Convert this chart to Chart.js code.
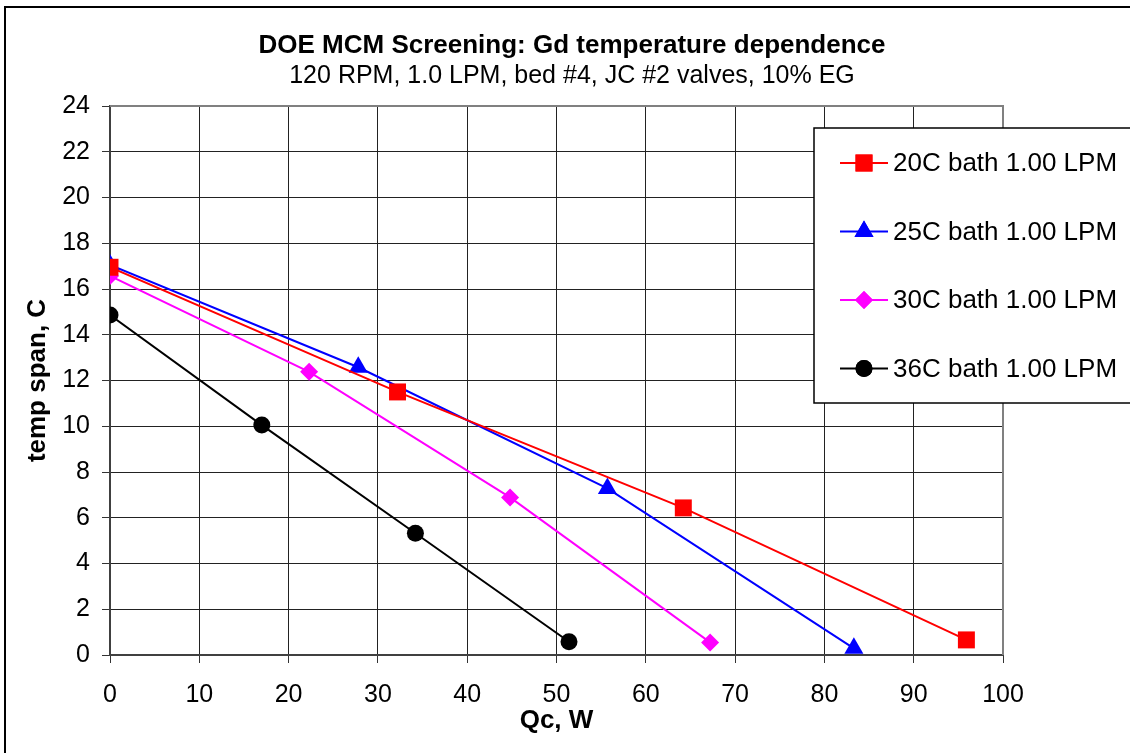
<!DOCTYPE html>
<html><head><meta charset="utf-8">
<script src="https://cdn.jsdelivr.net/npm/chart.js@4.4.1/dist/chart.umd.min.js"></script>
<style>html,body{margin:0;padding:0;background:#fff;overflow:hidden}canvas{display:block}</style>
</head><body>
<canvas id="c" width="1130" height="753"></canvas>
<script>
// ---- data ----
const titleText = 'DOE MCM Screening: Gd temperature dependence';
const subtitleText = '120 RPM, 1.0 LPM, bed #4, JC #2 valves, 10% EG';
const xTitle = 'Qc, W';
const yTitle = 'temp span, C';
const seriesLabels = ['20C bath 1.00 LPM', '25C bath 1.00 LPM', '30C bath 1.00 LPM', '36C bath 1.00 LPM'];
const qc20 = [0, 32.2, 64.2, 95.9];
const span20 = [16.95, 11.5, 6.43, 0.66];
const qc25 = [0, 27.8, 55.7, 83.3];
const span25 = [17.05, 12.58, 7.28, 0.29];
const qc30 = [0, 22.3, 44.8, 67.2];
const span30 = [16.57, 12.38, 6.89, 0.55];
const qc36 = [0, 17.0, 34.2, 51.4];
const span36 = [14.86, 10.05, 5.32, 0.58];
const xTickValues = [0, 10, 20, 30, 40, 50, 60, 70, 80, 90, 100];
const yTickValues = [0, 2, 4, 6, 8, 10, 12, 14, 16, 18, 20, 22, 24];

const FONT = '"Liberation Sans", Arial, sans-serif';
const pts = (xs, ys) => xs.map((x, i) => ({x: x, y: ys[i]}));

function ds(label, xs, ys, color, style, r) {
  return {label, data: pts(xs, ys), showLine: true, borderColor: color, backgroundColor: color,
    borderWidth: 2, pointStyle: style, pointRadius: r, pointHoverRadius: r,
    pointBorderWidth: 0, pointBorderColor: color, pointBackgroundColor: color};
}

const bgBorder = {
  id: 'bgBorder',
  beforeDraw(chart) {
    const ctx = chart.ctx;
    ctx.save();
    ctx.fillStyle = '#fff';
    ctx.fillRect(0, 0, chart.width, chart.height);
    ctx.strokeStyle = '#000';
    ctx.lineWidth = 2;
    ctx.beginPath();
    ctx.moveTo(5, chart.height);
    ctx.lineTo(5, 7);
    ctx.lineTo(chart.width, 7);
    ctx.stroke();
    // titles
    ctx.fillStyle = '#000';
    ctx.textAlign = 'center';
    ctx.textBaseline = 'middle';
    ctx.font = 'bold 26px ' + FONT;
    ctx.fillText(titleText, 572, 46);
    ctx.font = '25px ' + FONT;
    ctx.fillText(subtitleText, 572, 76);
    ctx.restore();
  },
  afterDraw(chart) {
    const ctx = chart.ctx, a = chart.chartArea;
    ctx.save();
    ctx.strokeStyle = '#808080';
    ctx.lineWidth = 2;
    ctx.beginPath();
    ctx.moveTo(a.left, a.top);
    ctx.lineTo(a.right, a.top);
    ctx.lineTo(a.right, a.bottom);
    ctx.stroke();
    // legend box
    const bx = 814, by = 128, bw = 330, bh = 275;
    ctx.fillStyle = '#fff';
    ctx.fillRect(bx, by, bw, bh);
    ctx.strokeStyle = '#000';
    ctx.lineWidth = 1.5;
    ctx.strokeRect(bx, by, bw, bh);
    ctx.font = '26px ' + FONT;
    ctx.textBaseline = 'middle';
    ctx.textAlign = 'left';
    chart.data.datasets.forEach((d, i) => {
      const y = 163 + i * 68.5;
      ctx.strokeStyle = d.borderColor;
      ctx.lineWidth = 2;
      ctx.beginPath();
      ctx.moveTo(840, y);
      ctx.lineTo(888, y);
      ctx.stroke();
      ctx.fillStyle = d.pointBackgroundColor;
      Chart.helpers.drawPoint(ctx, {pointStyle: d.pointStyle, radius: d.pointRadius, borderWidth: 0, rotation: 0}, 864, y);
      ctx.fill();
      ctx.fillStyle = '#000';
      ctx.fillText(d.label, 893, y + 1);
    });
    ctx.restore();
  }
};

new Chart(document.getElementById('c'), {
  type: 'scatter',
  data: {
    datasets: [
      ds(seriesLabels[0], qc20, span20, '#ff0000', 'rect', 12),
      ds(seriesLabels[1], qc25, span25, '#0000ff', 'triangle', 11),
      ds(seriesLabels[2], qc30, span30, '#ff00ff', 'rectRot', 9),
      ds(seriesLabels[3], qc36, span36, '#000000', 'circle', 8.5)
    ]
  },
  options: {
    responsive: false,
    animation: false,
    devicePixelRatio: 1,
    layout: {padding: {left: 0, right: 127, top: 106, bottom: 0}},
    plugins: {
      legend: {display: false},
      tooltip: {enabled: false},
      title: {display: false},
      subtitle: {display: false}
    },
    scales: {
      x: {
        type: 'linear', min: 0, max: 100,
        afterBuildTicks: s => { s.ticks = xTickValues.map(v => ({value: v})); },
        afterFit: s => { s.height = 98; },
        ticks: {color: '#000', font: {family: FONT, size: 25}, padding: 17, maxRotation: 0},
        grid: {color: '#222', lineWidth: 1, tickLength: 8, tickColor: '#333'},
        border: {color: '#404040', width: 2},
        title: {display: true, text: xTitle, color: '#000',
          font: {family: FONT, size: 26, weight: 'bold', lineHeight: 1.2}, padding: {top: 0, bottom: 17}}
      },
      y: {
        type: 'linear', min: 0, max: 24,
        afterBuildTicks: s => { s.ticks = yTickValues.map(v => ({value: v})); },
        afterFit: s => { s.width = 110; },
        ticks: {color: '#000', font: {family: FONT, size: 25}, padding: 12},
        grid: {color: '#222', lineWidth: 1, tickLength: 8, tickColor: '#333'},
        border: {color: '#404040', width: 2},
        title: {display: true, text: yTitle, color: '#000',
          font: {family: FONT, size: 26, weight: 'bold', lineHeight: 1.2}, padding: {top: 22, bottom: 0}}
      }
    }
  },
  plugins: [bgBorder]
});
</script>
</body></html>
